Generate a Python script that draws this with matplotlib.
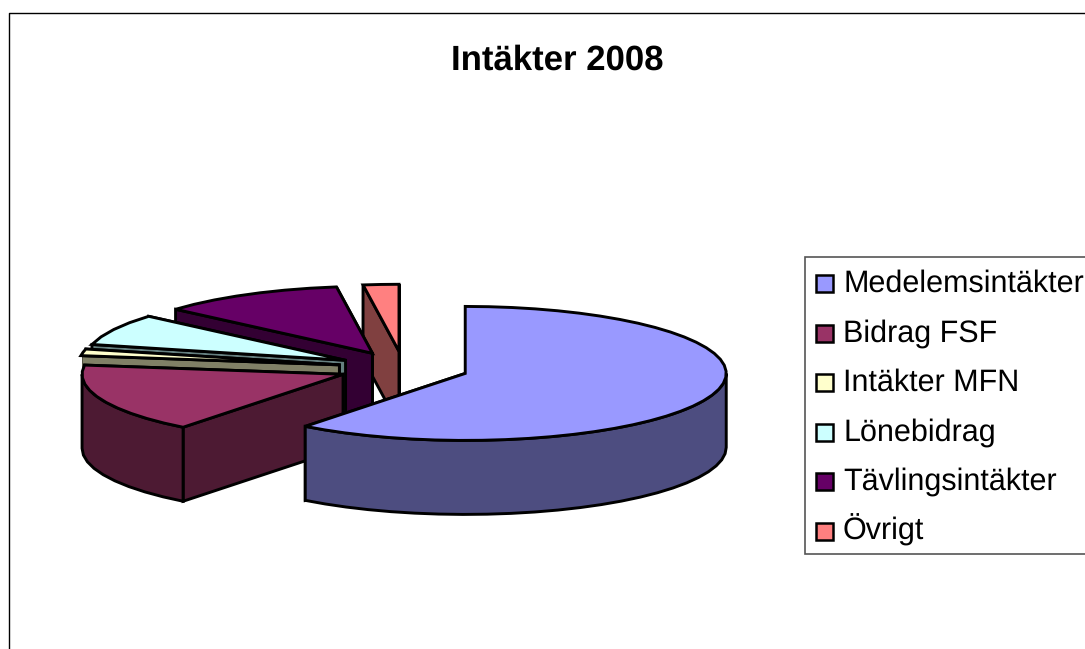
import numpy as np
import matplotlib
matplotlib.use("Agg")
import matplotlib.pyplot as plt
from matplotlib.patches import Polygon, Rectangle

plt.rcParams['font.family'] = ['Liberation Sans', 'DejaVu Sans']
plt.rcParams['text.hinting'] = 'none'

title = "Intäkter 2008"
categories = ["Medelemsintäkter", "Bidrag FSF", "Intäkter MFN", "Lönebidrag", "Tävlingsintäkter", "Övrigt"]
values = [60.5, 16.7, 1.6, 7.6, 11.4, 2.2]
colors = ["#9999FF", "#993366", "#FFFFCC", "#CCFFFF", "#660066", "#FF8080"]
shades = ["#4D4D80", "#4D1A33", "#808066", "#668080", "#330033", "#804040"]
explode = 0.25

# projection of the tilted pie, in pixels
CX, CY, RX, RY, DEPTH = 403.5, 368.0, 261.0, 67.0, 74.0
LW = 2.1
STEP = np.radians(5)

fig = plt.figure(figsize=(10.85, 6.49), dpi=100)
ax = fig.add_axes([0, 0, 1, 1])
ax.set_xlim(0, 1085)
ax.set_ylim(649, 0)
ax.axis("off")


def pt(theta, ox, oy):
    return ox + RX * np.sin(theta), oy - RY * np.cos(theta)


def poly(xy, fc, z, clip=None):
    p = Polygon(xy, closed=True, facecolor=fc, edgecolor="black",
                linewidth=LW, joinstyle="miter", zorder=z)
    ax.add_patch(p)
    if clip is not None:
        p.set_clip_path(clip)


fracs = np.array(values) / sum(values) * 2 * np.pi
ends = np.cumsum(fracs)
starts = ends - fracs

# the widest wall on the left bounds the inner faces of the slices behind it
mid1 = (starts[1] + ends[1]) / 2
left_limit = CX + explode * RX * np.sin(mid1) - RX
clip_rect = Rectangle((left_limit, 0), 1085, 649, transform=ax.transData)

for i in range(len(values) - 1, -1, -1):
    a, b = starts[i], ends[i]
    m = (a + b) / 2
    ox = CX + explode * RX * np.sin(m)
    oy = CY - explode * RY * np.cos(m)
    z = (len(values) - i) * 10
    n = max(3, int((b - a) / STEP))
    ts = np.linspace(a, b, n)
    arc = np.column_stack(pt(ts, ox, oy))
    apex = np.array([ox, oy])
    down = np.array([0, DEPTH])
    # radial faces: the far one first, then the near one
    for k, t in enumerate((b, a)):
        rim = np.array(pt(t, ox, oy))
        poly([apex, rim, rim + down, apex + down], shades[i], z + k, clip_rect)
    # outer wall, front half only
    lo, hi = max(a, np.pi / 2), min(b, 3 * np.pi / 2)
    if hi > lo:
        tw = np.linspace(lo, hi, max(3, int((hi - lo) / STEP)))
        front = np.column_stack(pt(tw, ox, oy))
        poly(np.vstack([front, (front + down)[::-1]]), shades[i], z + 3)
    # top surface
    poly(np.vstack([apex, arc]), colors[i], z + 4)

ax.text(557, 70, title, ha="center", va="baseline", fontsize=25, fontweight="bold", color="black")

# chart frame, running off the right and bottom edges
ax.plot([9, 9, 1100], [660, 13, 13], color="black", lw=1.0, zorder=200)

# legend, running off the right edge
ax.add_patch(Rectangle((805, 257), 300, 297, facecolor="white", edgecolor="#555555", linewidth=1.2, zorder=201))
for i, (lab, col) in enumerate(zip(categories, colors)):
    y = 292 + i * 49.5
    ax.add_patch(Rectangle((816, y - 17), 17, 17, facecolor=col, edgecolor="black", linewidth=1.8, zorder=202))
    ax.text(843, y, lab, ha="left", va="baseline", fontsize=22, color="black", zorder=202)

fig.savefig("out.png", dpi=100, facecolor="white")
